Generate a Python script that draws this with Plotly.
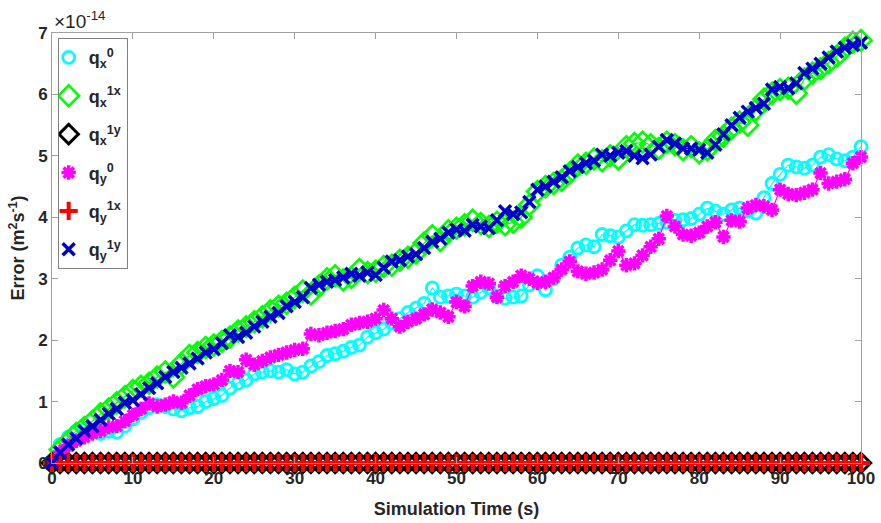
import plotly.graph_objects as go

time_s = list(range(0, 101))

qx0 = [0.00, 0.30, 0.42, 0.52, 0.55, 0.50, 0.48, 0.52, 0.50, 0.60,
       0.72, 0.82, 0.90, 0.95, 0.92, 0.88, 0.85, 0.90, 0.92, 1.00,
       1.05, 1.10, 1.22, 1.30, 1.35, 1.45, 1.48, 1.50, 1.48, 1.52,
       1.45, 1.48, 1.58, 1.65, 1.75, 1.78, 1.82, 1.88, 1.92, 2.05,
       2.12, 2.18, 2.28, 2.35, 2.45, 2.52, 2.60, 2.85, 2.70, 2.72,
       2.75, 2.72, 2.70, 2.78, 2.85, 2.72, 2.68, 2.70, 2.72, 2.90,
       3.05, 2.82, 3.00, 3.22, 3.35, 3.50, 3.55, 3.52, 3.72, 3.70,
       3.68, 3.78, 3.88, 3.87, 3.88, 3.90, 3.92, 3.95, 3.96, 3.98,
       4.05, 4.15, 4.10, 4.05, 4.12, 4.15, 4.10, 4.07, 4.32, 4.55,
       4.70, 4.85, 4.82, 4.80, 4.85, 4.98, 5.02, 4.95, 4.92, 4.98,
       5.15]

qx1x = [0.00, 0.22, 0.35, 0.48, 0.58, 0.68, 0.80, 0.88, 0.98, 1.08,
        1.18, 1.25, 1.30, 1.40, 1.48, 1.40, 1.62, 1.75, 1.80, 1.88,
        1.92, 1.98, 2.05, 2.15, 2.22, 2.30, 2.38, 2.48, 2.55, 2.60,
        2.70, 2.80, 2.75, 2.88, 3.00, 3.05, 2.98, 3.02, 3.15, 3.10,
        3.12, 3.20, 3.22, 3.30, 3.35, 3.42, 3.58, 3.70, 3.62, 3.78,
        3.82, 3.88, 3.95, 3.90, 3.85, 3.92, 3.88, 3.92, 4.00, 4.20,
        4.42, 4.50, 4.55, 4.60, 4.72, 4.85, 4.88, 4.95, 4.92, 5.00,
        4.95, 5.15, 5.20, 5.22, 5.18, 5.12, 5.22, 5.18, 5.10, 5.15,
        5.05, 5.10, 5.25, 5.32, 5.45, 5.55, 5.50, 5.75, 5.92, 6.02,
        6.08, 6.10, 6.02, 6.25, 6.35, 6.42, 6.52, 6.62, 6.75, 6.85,
        6.88]

qx1y = [0.0] * 101

qy0 = [0.00, 0.18, 0.28, 0.36, 0.42, 0.48, 0.52, 0.58, 0.60, 0.68,
       0.78, 0.88, 0.97, 0.92, 0.95, 1.00, 0.98, 1.10, 1.20, 1.25,
       1.28, 1.35, 1.50, 1.48, 1.68, 1.60, 1.66, 1.72, 1.76, 1.80,
       1.84, 1.86, 2.10, 2.08, 2.12, 2.15, 2.18, 2.25, 2.28, 2.30,
       2.35, 2.49, 2.35, 2.22, 2.30, 2.35, 2.42, 2.50, 2.45, 2.38,
       2.62, 2.55, 2.88, 2.95, 2.92, 2.70, 2.88, 2.95, 3.05, 3.00,
       2.93, 2.95, 3.02, 3.15, 3.28, 3.12, 3.08, 3.10, 3.15, 3.30,
       3.45, 3.22, 3.25, 3.38, 3.52, 3.65, 4.02, 3.85, 3.72, 3.70,
       3.75, 3.85, 3.92, 3.68, 3.95, 3.93, 4.15, 4.20, 4.18, 4.12,
       4.45, 4.38, 4.36, 4.40, 4.45, 4.72, 4.55, 4.58, 4.62, 4.88,
       4.98]

qy1x = [0.0] * 101

qy1y = [0.00, 0.17, 0.30, 0.40, 0.52, 0.60, 0.70, 0.80, 0.88, 0.98,
        1.02, 1.12, 1.22, 1.30, 1.40, 1.48, 1.55, 1.62, 1.70, 1.80,
        1.85, 1.95, 2.08, 2.05, 2.12, 2.22, 2.30, 2.38, 2.44, 2.55,
        2.62, 2.70, 2.85, 2.90, 2.95, 2.98, 3.02, 3.08, 3.05, 3.10,
        3.06, 3.18, 3.28, 3.30, 3.36, 3.40, 3.50, 3.60, 3.65, 3.75,
        3.80, 3.78, 3.88, 3.85, 3.82, 3.95, 4.10, 4.05, 4.08, 4.25,
        4.45, 4.50, 4.58, 4.65, 4.75, 4.82, 4.88, 4.92, 5.02, 5.00,
        5.05, 5.08, 5.00, 4.96, 5.02, 5.15, 5.26, 5.20, 5.12, 5.12,
        5.10, 5.05, 5.18, 5.35, 5.50, 5.62, 5.72, 5.78, 5.85, 6.08,
        6.12, 6.10, 6.18, 6.35, 6.42, 6.50, 6.60, 6.70, 6.76, 6.80,
        6.84]

series = [
    ("q<sub>x</sub><sup>0</sup>", qx0, "#00FFFF", "circle-open", 12, 2.8),
    ("q<sub>x</sub><sup>1x</sup>", qx1x, "#00FF00", "diamond-open", 16, 2.6),
    ("q<sub>x</sub><sup>1y</sup>", qx1y, "#000000", "diamond-open", 15, 3),
    ("q<sub>y</sub><sup>0</sup>", qy0, "#FF00FF", "asterisk-open", 12, 3.5),
    ("q<sub>y</sub><sup>1x</sup>", qy1x, "#FF0000", "cross-thin-open", 13, 4),
    ("q<sub>y</sub><sup>1y</sup>", qy1y, "#0000CC", "x-thin-open", 12, 3.5),
]

FONT = "Liberation Sans, Arial, Helvetica, sans-serif"
SCALE = 1e-14

fig = go.Figure()
for i, (name, vals, color, sym, size, lw) in enumerate(series):
    mk = dict(symbol=sym, size=size, color=color, line=dict(color=color, width=lw))
    fig.add_trace(go.Scatter(
        x=time_s, y=[v * SCALE for v in vals], name=name,
        mode="lines+markers", cliponaxis=False, showlegend=False,
        line=dict(color=color, width=1.2), marker=mk,
    ))
    # legend entry (marker only, like the reference legend)
    fig.add_trace(go.Scatter(
        x=[None], y=[None], name=name, mode="markers",
        legendgroup=f"g{i}", showlegend=True, marker=mk,
    ))

axis_common = dict(
    showline=True, linecolor="#a0a0a0", linewidth=1, mirror="ticks",
    ticks="inside", ticklen=6, tickcolor="#a0a0a0", showgrid=False, zeroline=False,
    automargin=False,
    tickfont=dict(family=FONT, size=17, color="#262626", weight="bold"),
)

fig.update_layout(
    width=881, height=523,
    margin=dict(l=52, r=20, t=33, b=60),
    paper_bgcolor="white", plot_bgcolor="white",
    xaxis=dict(range=[0, 100], dtick=10, tick0=0,
               title=dict(text="<b>Simulation Time (s)</b>", font=dict(family=FONT, size=18, color="#262626"), standoff=14),
               **axis_common),
    yaxis=dict(range=[0, 7 * SCALE], tickvals=[i * SCALE for i in range(8)],
               ticktext=[str(i) for i in range(8)],
               title=dict(text="<b>Error (m<sup>2</sup>s<sup>-1</sup>)</b>", font=dict(family=FONT, size=18, color="#262626"), standoff=8),
               **axis_common),
    legend=dict(x=0.007, y=0.988, xanchor="left", yanchor="top",
                bordercolor="#808080", borderwidth=1, bgcolor="white",
                font=dict(family=FONT, size=18, color="#262626", weight="bold"),
                itemwidth=30, tracegroupgap=12, indentation=-10),
    showlegend=True,
    annotations=[
        dict(text="×10<sup>-14</sup>", xref="paper", yref="paper", x=0, y=1,
             xanchor="left", yanchor="bottom", showarrow=False, yshift=-1, xshift=0,
             font=dict(family=FONT, size=19, color="#262626")),
        dict(text="<b>(a)</b>", xref="paper", yref="paper", x=0.47, y=1,
             xanchor="center", yanchor="bottom", showarrow=False, yshift=31,
             font=dict(family=FONT, size=16, color="#262626")),
    ],
)

fig.write_html("out.html")
